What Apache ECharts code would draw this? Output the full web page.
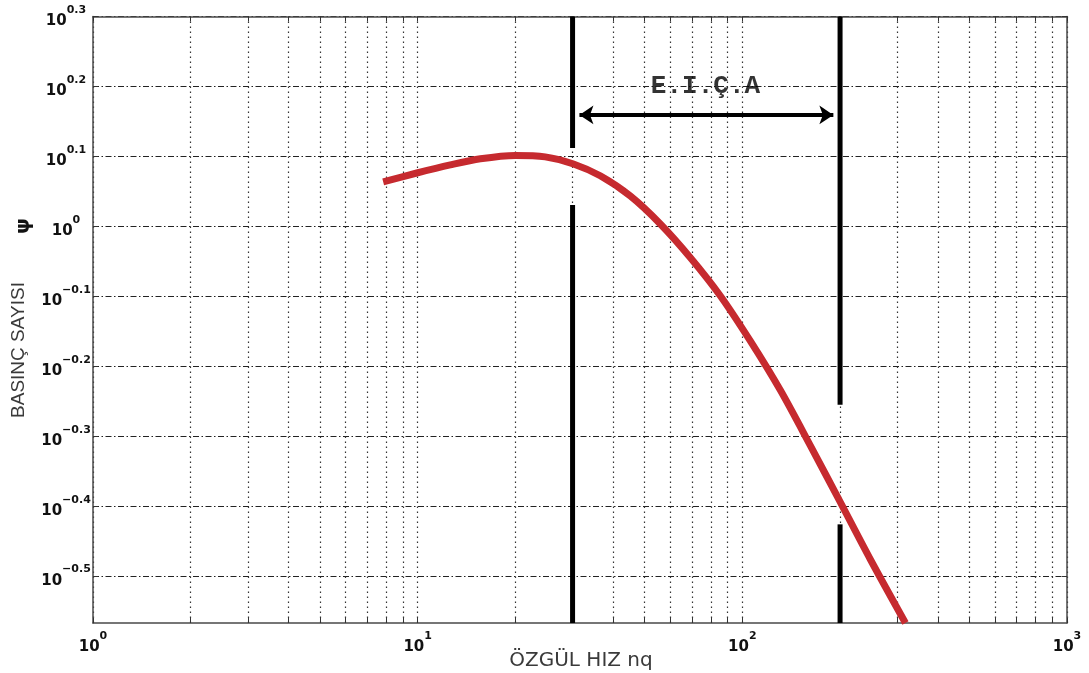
<!DOCTYPE html>
<html>
<head>
<meta charset="utf-8">
<title>Basınç sayısı – özgül hız</title>
<script src="https://cdn.jsdelivr.net/npm/echarts@6/dist/echarts.min.js"></script>
<style>
  html, body { margin: 0; padding: 0; background: #fff; }
  #chart { width: 1089px; height: 673px; }
</style>
</head>
<body>
<div id="chart"></div>
<script>
// Pressure number ψ versus specific speed nq (both on log scales)
const nq  = [7.83, 9.94, 12.6, 15.6, 20.0, 24.7, 30.2, 36.5, 45.2, 55.9, 69.2, 85.5, 105.8, 131, 162, 200.5, 248, 318];
const psi = [1.158, 1.192, 1.224, 1.249, 1.263, 1.257, 1.228, 1.181, 1.105, 1.008, 0.902, 0.796, 0.686, 0.583, 0.486, 0.403, 0.334, 0.271];

// Limits of the E.I.Ç.A range and the gaps left where the curve crosses them
const limitNq   = [30, 200];
const limitGaps = [[1.073, 1.294], [0.375, 0.556]];

// Arrow and label marking the range
const arrowNq  = [31.5, 190.7];
const arrowPsi = 1.443;
const rangeLabel = 'E.I.Ç.A';
const rangeLabelNq = 77;
const rangeLabelPsi = 1.585;

// Axis extents (decades) and tick positions
const xDecades = [1, 10, 100];
const xMultipliers = [1, 2, 3, 4, 5, 6, 7, 8, 9];
const xMaxValue = 1000;
const xLabelExponents = [0, 1, 2, 3];
const yMinExp = -0.567;
const yMaxExp = 0.3;
const yLabelExponents = [0.3, 0.2, 0.1, 0, -0.1, -0.2, -0.3, -0.4, -0.5];

const lg = Math.log10;
const xTickValues = [];
xDecades.forEach(d => xMultipliers.forEach(m => xTickValues.push(lg(d * m))));
xTickValues.push(lg(xMaxValue));

const fmtExp = v => {
  const r = Math.round(v * 10) / 10;
  if (r === 0) return '0';
  const s = Number.isInteger(r) && Math.abs(r) >= 1 ? String(Math.abs(r)) : Math.abs(r).toFixed(1);
  return (r < 0 ? '\u2212' : '') + s;
};
const powRich = {
  b: { fontFamily: 'DejaVu Sans', fontWeight: 'bold', fontSize: 15, color: '#111', lineHeight: 24, verticalAlign: 'bottom' },
  s: { fontFamily: 'DejaVu Sans', fontWeight: 'bold', fontSize: 11, color: '#111', lineHeight: 12, verticalAlign: 'top' }
};
const powFormatter = v => '{b|10}{s|' + fmtExp(v) + '}';

const axisLineStyle = { color: '#4a4a4a', width: 1.5 };
const tickStyle = { color: '#333', width: 1 };

const curveData = nq.map((n, i) => [lg(n), lg(psi[i])]);

const limitSeries = [];
limitNq.forEach((n, i) => {
  const [g0, g1] = limitGaps[i];
  [[yMaxExp, lg(g1)], [lg(g0), yMinExp]].forEach(seg => {
    limitSeries.push({
      type: 'line',
      data: [[lg(n), seg[0]], [lg(n), seg[1]]],
      showSymbol: false,
      silent: true,
      clip: false,
      lineStyle: { color: '#000', width: 5, cap: 'butt' },
      z: 3
    });
  });
});

const chart = echarts.init(document.getElementById('chart'), null, { renderer: 'canvas' });
chart.setOption({
  animation: false,
  backgroundColor: '#fff',
  grid: { left: 93, right: 22, top: 16.5, bottom: 50 },
  xAxis: [{
    type: 'value', min: 0, max: 3, position: 'bottom',
    axisLine: { show: true, onZero: false, lineStyle: axisLineStyle },
    axisTick: { show: true, inside: true, length: 5, customValues: xTickValues, lineStyle: tickStyle },
    axisLabel: { customValues: xLabelExponents, formatter: powFormatter, rich: powRich, margin: 8 },
    splitLine: { show: true, lineStyle: { color: '#333', width: 1.2, type: [1.5, 3.5] } }
  }, {
    type: 'value', min: 0, max: 3, position: 'top',
    axisLine: { show: true, onZero: false, lineStyle: axisLineStyle },
    axisTick: { show: true, inside: true, length: 5, customValues: xTickValues, lineStyle: tickStyle },
    axisLabel: { show: false },
    splitLine: { show: false }
  }],
  yAxis: [{
    type: 'value', min: yMinExp, max: yMaxExp, position: 'left',
    axisLine: { show: true, onZero: false, lineStyle: axisLineStyle },
    axisTick: { show: true, inside: true, length: 5, customValues: yLabelExponents, lineStyle: tickStyle },
    axisLabel: { customValues: yLabelExponents, formatter: powFormatter, rich: powRich, margin: 27, align: 'center' },
    splitLine: { show: true, lineStyle: { color: '#222', width: 1, type: [6, 2.5, 1.5, 2.5] } }
  }, {
    type: 'value', min: yMinExp, max: yMaxExp, position: 'right',
    axisLine: { show: true, onZero: false, lineStyle: axisLineStyle },
    axisTick: { show: true, inside: true, length: 5, customValues: yLabelExponents, lineStyle: tickStyle },
    axisLabel: { show: false },
    splitLine: { show: false }
  }],
  graphic: [
    { type: 'text', x: 581, y: 661, style: { text: 'ÖZGÜL HIZ nq', font: '20px "DejaVu Sans"', fill: '#3a3a3a', textAlign: 'center', textVerticalAlign: 'middle' } },
    { type: 'text', x: 19, y: 350, rotation: Math.PI / 2, style: { text: 'BASINÇ SAYISI', font: '19px "Liberation Sans"', fill: '#3a3a3a', textAlign: 'center', textVerticalAlign: 'middle' } },
    { type: 'text', x: 24, y: 226, rotation: Math.PI / 2, style: { text: 'ψ', font: 'bold 20px "DejaVu Sans"', fill: '#111', textAlign: 'center', textVerticalAlign: 'middle' } }
  ],
  series: [
    ...limitSeries,
    {
      type: 'scatter',
      data: [[lg(rangeLabelNq), lg(rangeLabelPsi)]],
      symbolSize: 0,
      silent: true,
      label: {
        show: true, position: 'inside', formatter: rangeLabel,
        fontFamily: 'Liberation Mono', fontWeight: 'bold', fontSize: 26, color: '#000'
      },
      markLine: {
        silent: true,
        symbol: ['arrow', 'arrow'],
        symbolSize: [14, 14],
        label: { show: false },
        lineStyle: { color: '#000', width: 4, type: 'solid' },
        data: [[{ coord: [lg(arrowNq[0]), lg(arrowPsi)] }, { coord: [lg(arrowNq[1]), lg(arrowPsi)] }]]
      },
      z: 4
    },
    {
      type: 'line',
      data: curveData,
      smooth: 0.3,
      showSymbol: false,
      silent: true,
      lineStyle: { color: '#c62a2f', width: 7 },
      z: 5
    }
  ]
});
</script>
</body>
</html>
